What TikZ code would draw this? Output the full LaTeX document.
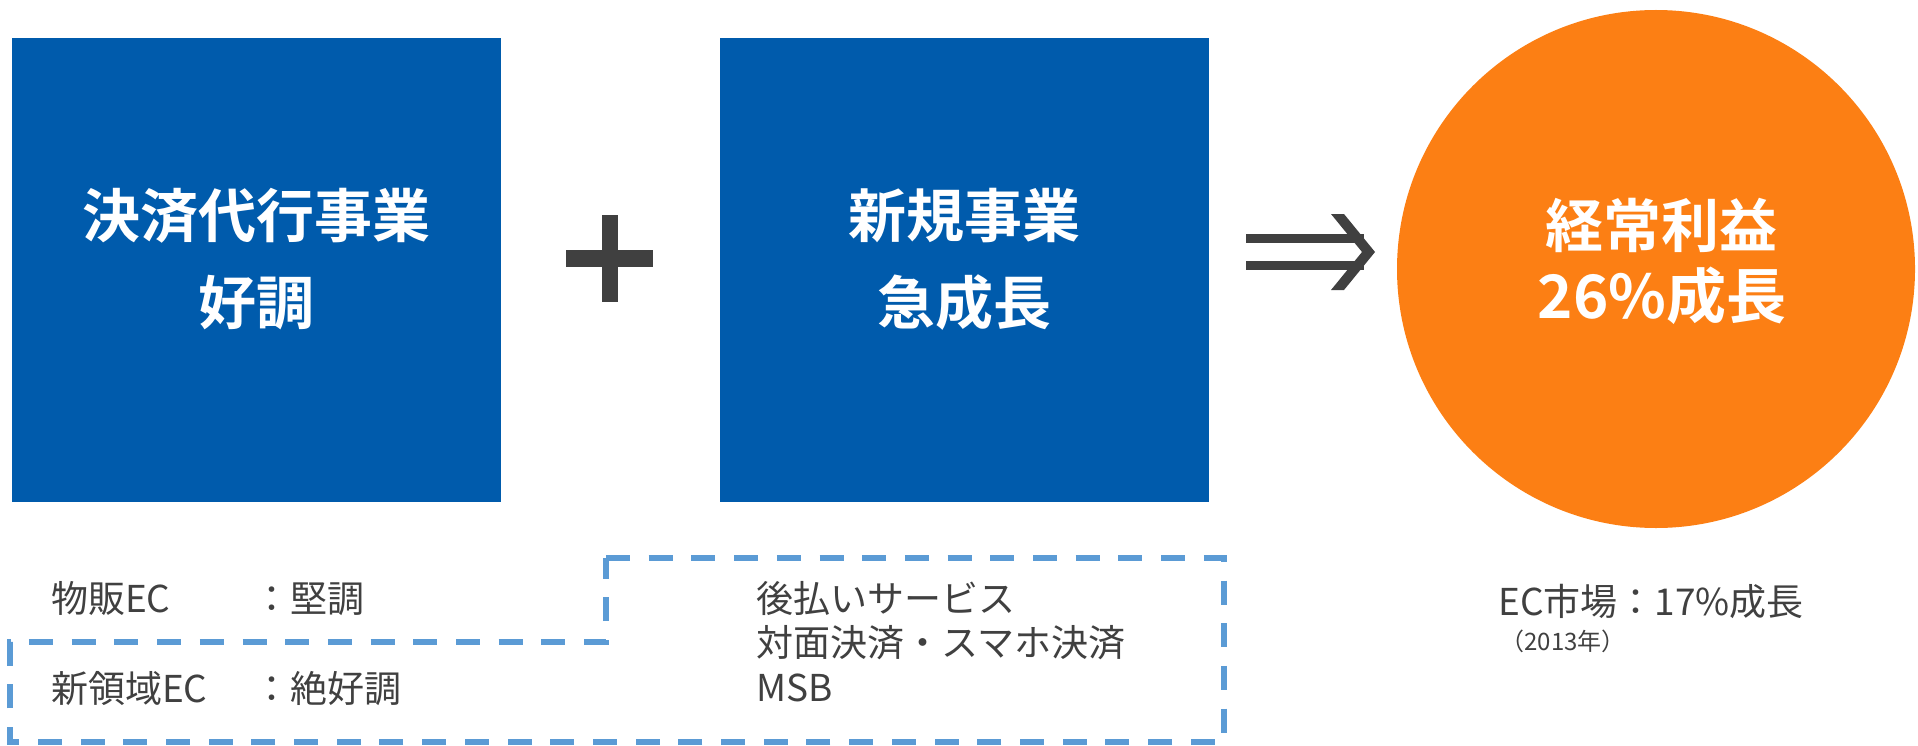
\documentclass[tikz,border=0pt]{standalone}
\usepackage{fontspec}
\setmainfont{Noto Sans CJK JP}[BoldFont={Noto Sans CJK JP Bold}]
\definecolor{boxblue}{RGB}{0,91,172}
\definecolor{orng}{RGB}{252,127,20}
\definecolor{dashblue}{RGB}{91,155,213}
\definecolor{dark}{RGB}{64,64,64}
\begin{document}
\begin{tikzpicture}[x=1pt,y=-1pt,
  bluebox/.style={fill=boxblue, draw=none, minimum width=489pt, minimum height=464pt, inner sep=0pt, outer sep=0pt},
  boxtext/.style={text=white, font=\fontsize{58}{70}\selectfont\bfseries, anchor=base, inner sep=0pt},
  bottomtext/.style={text=dark, font=\fontsize{37}{44}\selectfont, anchor=base west, inner sep=0pt},
  dashframe/.style={draw=dashblue, line width=5.5pt, dash pattern=on 24pt off 18.7pt},
  symbolfill/.style={fill=dark, draw=none}]
\useasboundingbox (0,0) rectangle (1918,746);

% blue boxes
\node[bluebox] (b1) at (256.5,270) {};
\node[bluebox] (b2) at (964,270) {};
\node[boxtext] (t1a) at (256.5,237) {決済代行事業};
\node[boxtext] (t1b) at (256.5,324) {好調};
\node[boxtext] (t2a) at (964,237) {新規事業};
\node[boxtext] (t2b) at (964,324) {急成長};

% plus sign
\fill[symbolfill] (602,215) rectangle (618,302);
\fill[symbolfill] (566,250) rectangle (653,267);

% double arrow
\fill[symbolfill] (1246,234) rectangle (1364,243);
\fill[symbolfill] (1246,261) rectangle (1364,270);
\fill[symbolfill] (1331,214) -- (1344,214) -- (1375,252) -- (1344,290) -- (1331,290) -- (1362,252) -- cycle;

% orange circle
\node[circle, fill=orng, draw=none, minimum size=518pt, inner sep=0pt] (c) at (1656,269) {};
\node[boxtext, font=\fontsize{58}{70}\selectfont\bfseries] (ct1) at (1661,247) {経常利益};
\node[boxtext, font=\fontsize{60}{70}\selectfont\bfseries] (ct2) at (1662,318) {26\%成長};

% dashed frame
\coordinate (d1) at (606,558);
\coordinate (d2) at (1224,558);
\coordinate (d3) at (1224,742);
\coordinate (d4) at (10,742);
\coordinate (d5) at (10,642);
\coordinate (d6) at (606,642);
\draw[dashframe] (d1) -- (d2) -- (d3) -- (d4) -- (d5) -- (d6) -- cycle;

% bottom texts
\node[bottomtext] (l1a) at (51,612) {物販EC};
\node[bottomtext] (l1b) at (253,612) {：堅調};
\node[bottomtext] (l2a) at (51,702) {新領域EC};
\node[bottomtext] (l2b) at (253,702) {：絶好調};
\node[bottomtext] (r1) at (756,612) {後払いサービス};
\node[bottomtext] (r2) at (756,656) {対面決済・スマホ決済};
\node[bottomtext] (r3) at (756,701) {MSB};

\node[bottomtext, anchor=base] (m1) at (1651,615) {EC市場：17\%成長};
\node[bottomtext, anchor=base, font=\fontsize{24}{28}\selectfont] (m2) at (1563,650) {（2013年）};
\end{tikzpicture}
\end{document}
